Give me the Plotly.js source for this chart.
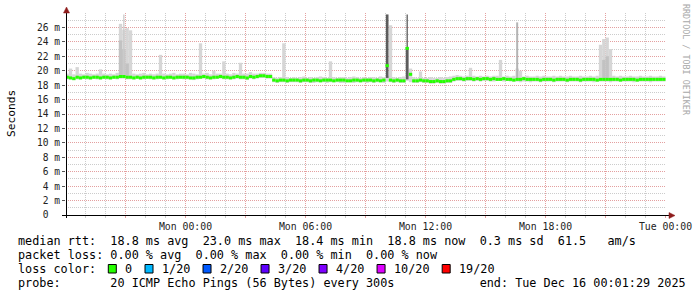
<!DOCTYPE html>
<html><head><meta charset="utf-8">
<script src="https://cdn.plot.ly/plotly-3.0.1.min.js"></script>
<style>html,body{margin:0;padding:0;background:#fff}#chart{width:697px;height:297px}</style>
</head><body><div id="chart"></div>
<script>
// ---------- data (ms), 10-minute steps starting Sun 14 Dec 2025 18:00 ----------
const stepMinutes = 10;
const median = [
19.1,19.0,18.9,19.1,19.0,19.1,19.1,19.0,19.1,19.1,19.0,19.1,
19.1,19.0,19.1,19.1,19.2,19.2,19.1,19.1,19.0,19.1,19.0,19.1,
19.1,19.1,19.0,19.1,19.1,19.0,19.1,19.1,19.0,19.1,19.1,19.1,
19.1,19.0,19.0,19.1,19.1,19.2,19.1,19.0,19.1,19.1,19.2,19.1,
19.1,19.0,19.1,19.2,19.1,19.1,19.0,19.2,19.1,19.2,19.3,19.3,19.2,19.2,
18.7,18.6,18.7,18.7,18.6,18.7,18.7,18.7,18.6,18.7,18.7,18.6,
18.7,18.7,18.6,18.7,18.7,18.7,18.6,18.7,18.7,18.7,18.6,18.6,
18.7,18.7,18.6,18.7,18.7,18.7,18.6,18.7,18.6,18.7,
20.7,
18.7,18.6,18.7,18.6,18.6,
23.1,19.5,
18.6,18.6,18.7,18.6,18.6,18.5,18.5,18.6,18.5,18.5,18.6,18.6,
18.8,18.9,18.9,18.8,18.9,18.9,18.8,18.9,18.8,18.9,18.9,18.8,
18.9,18.8,18.8,18.9,18.8,18.8,18.7,18.8,18.8,18.9,18.8,18.8,
18.8,18.8,18.7,18.8,18.8,18.8,18.7,18.8,18.8,18.8,18.7,18.8,
18.8,18.8,18.7,18.8,18.8,18.8,18.8,18.7,18.8,18.8,18.8,18.8,
18.8,18.8,18.7,18.8,18.8,18.8,18.8,18.7,18.8,18.8,18.8,18.8,
18.8,18.8,18.8,18.8
];
const smokeHi = [
19.6,20.3,19.5,20.5,19.6,19.5,19.7,19.6,19.5,19.6,20.2,19.6,
19.5,19.6,19.5,19.7,26.5,25.7,25.9,25.6,19.6,19.5,19.6,19.7,
19.5,19.6,19.5,19.6,22.2,19.6,19.5,19.6,19.7,19.5,19.6,19.6,
19.5,19.7,19.6,19.5,23.8,19.6,19.7,19.5,20.0,19.6,19.6,21.3,
19.6,19.5,19.7,19.6,21.1,19.6,19.6,19.8,19.6,19.6,19.7,19.7,
19.6,19.6,19.1,19.0,19.1,23.8,19.1,19.0,19.1,19.0,19.1,19.2,
19.0,19.1,19.0,19.1,19.2,19.1,19.0,21.3,19.1,19.0,19.1,19.1,
19.0,19.1,19.2,19.1,19.0,19.1,19.0,19.1,19.1,19.0,19.2,19.1,
19.3,26.3,19.1,19.0,19.1,19.2,23.2,20.3,19.1,19.0,19.9,19.0,
19.0,19.1,19.0,19.0,19.1,19.0,19.1,19.2,19.3,19.4,19.3,19.2,
19.3,20.4,19.3,19.2,19.3,19.2,19.3,19.2,19.3,19.3,21.5,19.2,
19.3,19.2,19.3,20.3,20.0,19.2,19.3,19.2,19.2,19.3,19.2,19.3,
19.2,19.2,19.3,19.2,19.3,19.2,19.2,19.3,19.2,19.2,19.3,19.2,
19.2,19.3,19.2,19.3,23.6,24.4,24.6,23.0,19.3,19.2,19.3,19.2,
19.2,19.3,19.2,19.2,19.3,19.2,19.2,19.3,19.2,19.2,19.3,19.2
];
const smokeLo = [
18.8,18.8,18.7,18.8,18.8,18.9,18.8,18.8,18.9,18.8,18.8,18.9,
18.8,18.8,18.9,18.8,18.9,18.9,18.8,18.8,18.8,18.9,18.8,18.8,
18.9,18.8,18.8,18.8,18.9,18.8,18.8,18.9,18.8,18.8,18.9,18.8,
18.8,18.8,18.7,18.8,18.9,18.9,18.8,18.8,18.8,18.9,18.9,18.8,
18.8,18.8,18.8,18.9,18.8,18.8,18.7,18.9,18.8,18.9,19.0,19.0,
18.9,18.9,18.4,18.3,18.4,18.4,18.3,18.4,18.4,18.4,18.3,18.4,
18.4,18.3,18.3,18.4,18.4,18.4,18.3,18.4,18.4,18.4,18.3,18.3,
18.4,18.4,18.3,18.4,18.4,18.4,18.3,18.4,18.3,18.4,18.4,18.3,
18.5,18.4,18.3,18.4,18.3,18.3,18.6,18.4,18.3,18.3,18.4,18.3,
18.3,18.2,18.2,18.3,18.2,18.2,18.3,18.3,18.5,18.6,18.6,18.5,
18.6,18.6,18.5,18.6,18.5,18.6,18.6,18.5,18.5,18.6,18.6,18.5,
18.6,18.5,18.5,18.5,18.4,18.5,18.5,18.4,18.5,18.5,18.4,18.5,
18.5,18.5,18.4,18.5,18.5,18.5,18.4,18.5,18.5,18.5,18.4,18.5,
18.5,18.5,18.4,18.5,18.5,18.5,18.5,18.4,18.5,18.5,18.5,18.5,
18.5,18.5,18.4,18.5,18.5,18.5,18.5,18.4,18.5,18.5,18.5,18.5
];
// denser smoke (inner percentiles) at a few steps
const midIdx = [16, 17, 18, 161, 162];
const midLo  = [19.3, 19.3, 19.3, 19.0, 19.0];
const midHi  = [24.2, 23.0, 21.0, 21.5, 22.0];
// darkest smoke (most pings high)
const darkIdx = [96, 102];
const darkLo  = [19.0, 18.8];
const darkHi  = [27.8, 23.2];
// single stray pings (thin)
const thinLightIdx = [17];  const thinLightLo = [19.3]; const thinLightHi = [27.8];
const thinMidIdx   = [135]; const thinMidLo   = [19.0]; const thinMidHi   = [26.7];
const thinDarkIdx  = [102]; const thinDarkLo  = [23.0]; const thinDarkHi  = [27.8];

const xTickVals = ['2025-12-14 21:00','2025-12-15 00:00','2025-12-15 03:00','2025-12-15 06:00',
  '2025-12-15 09:00','2025-12-15 12:00','2025-12-15 15:00','2025-12-15 18:00','2025-12-15 21:00','2025-12-16 00:00'];
const xTickText = ['','Mon 00:00','','Mon 06:00','','Mon 12:00','','Mon 18:00','','Tue 00:00'];
const yTickVals = [0,2,4,6,8,10,12,14,16,18,20,22,24,26];
const yTickText = ['0\u00a0\u00a0','2 m','4 m','6 m','8 m','10 m','12 m','14 m','16 m','18 m','20 m','22 m','24 m','26 m'];

const lossLabels = ['0','1/20','2/20','3/20','4/20','10/20','19/20'];
const lossColors = ['#26ff00','#00b8ff','#0059ff','#5e00ff','#7e00ff','#dd00ff','#ff0000'];

const legendLine1 = 'median rtt:  18.8 ms avg  23.0 ms max  18.4 ms min  18.8 ms now  0.3 ms sd  61.5   am/s';
const legendLine2 = 'packet loss: 0.00 % avg  0.00 % max  0.00 % min  0.00 % now';
const legendLine3 = 'loss color:';
const legendLine4 = 'probe:       20 ICMP Echo Pings (56 Bytes) every 300s            end: Tue Dec 16 00:01:29 2025';
const sideText = 'RRDTOOL / TOBI OETIKER';
const yTitle = 'Seconds';

// ---------- build ----------
const T0 = Date.UTC(2025, 11, 14, 18, 0, 0);
const STEP = stepMinutes * 60000;
const tc = i => T0 + i * STEP + STEP / 2;

function bars(idx, lo, hi, color, width) {
  return {type:'bar', x: idx.map(tc), base: lo, y: hi.map((h, k) => h - lo[k]),
    width: width, marker: {color: color, line: {width: 0}}, hoverinfo: 'skip', showlegend: false};
}
const allIdx = median.map((_, i) => i);

// median as separate horizontal step segments (no vertical connectors)
const segX = [], segY = [];
median.forEach((m, i) => { segX.push(T0 + i * STEP, T0 + (i + 1) * STEP, null); segY.push(m, m, null); });

const traces = [
  bars(allIdx, smokeLo, smokeHi, '#d6d6d6', STEP),
  bars(midIdx, midLo, midHi, '#c2c2c2', STEP),
  bars(thinLightIdx, thinLightLo, thinLightHi, '#cccccc', STEP * 0.4),
  bars(thinMidIdx, thinMidLo, thinMidHi, '#b4b4b4', STEP * 0.6),
  bars(darkIdx, darkLo, darkHi, '#5c5c5c', STEP * 0.8),
  bars(thinDarkIdx, thinDarkLo, thinDarkHi, '#4a4a4a', STEP * 0.35),
  {type:'scatter', mode:'lines', x: segX, y: segY, connectgaps:false,
    line:{color:'#26ff00', width:3}, hoverinfo:'skip', showlegend:false}
];

// pixel -> paper helpers (plot area: x 66..666, y 13..215)
const PL = 66, PW = 600, PB = 215, PH = 202;
const xp = px => (px - PL) / PW;
const yp = py => (PB - py) / PH;
const mono = 'DejaVu Sans Mono';
const CW = 11.8 * 0.602;

const shapes = [
  {type:'line', xref:'paper', yref:'paper', x0: xp(62), x1: xp(670), y0: yp(215.5), y1: yp(215.5), line:{color:'#000', width:1}, layer:'above'},
  {type:'line', xref:'paper', yref:'paper', x0: xp(66.5), x1: xp(66.5), y0: yp(218), y1: yp(11), line:{color:'#000', width:1}, layer:'above'},
  {type:'path', xref:'paper', yref:'paper', path: `M ${xp(669)} ${yp(212.5)} L ${xp(675)} ${yp(215.5)} L ${xp(669)} ${yp(218.5)} Z`,
    fillcolor:'#8e1c1c', line:{color:'#8e1c1c', width:0.5}, layer:'above'},
  {type:'path', xref:'paper', yref:'paper', path: `M ${xp(63.5)} ${yp(13)} L ${xp(66.5)} ${yp(7)} L ${xp(69.5)} ${yp(13)} Z`,
    fillcolor:'#8e1c1c', line:{color:'#8e1c1c', width:0.5}, layer:'above'}
];

const nb = s => s.replace(/ /g, '\u00a0');
const ann = (text, px, py, extra) => Object.assign({xref:'paper', yref:'paper', x: xp(px), y: yp(py),
  text: nb(text), showarrow:false, xanchor:'left', yanchor:'middle', font:{family: mono, size: 11.8, color:'#000'}}, extra || {});

const annotations = [
  ann(legendLine1, 16, 241),
  ann(legendLine2, 16, 254.5),
  ann(legendLine3, 16, 268.5),
  ann(legendLine4, 16, 282.5),
  {xref:'paper', yref:'paper', x: xp(11), y: yp(114), text: yTitle, textangle:-90, showarrow:false,
    xanchor:'center', yanchor:'middle', font:{family: mono, size: 11.2, color:'#000'}},
  {xref:'paper', yref:'paper', x: xp(686), y: yp(60), text: nb(sideText), textangle:90, showarrow:false,
    xanchor:'center', yanchor:'middle', font:{family: mono, size: 8.4, color:'#a8a8a8'}}
];

let sx = 108.3;
lossLabels.forEach((lab, k) => {
  shapes.push({type:'rect', xref:'paper', yref:'paper', x0: xp(sx), x1: xp(sx + 8), y0: yp(264.5), y1: yp(273),
    fillcolor: lossColors[k], line:{color:'#000', width:1}});
  annotations.push(ann(lab, sx + 15, 268.5));
  sx += 15 + lab.length * CW + 14.6;
});

const gridDash = '1px,1px';
const layout = {
  width: 697, height: 297,
  margin: {l: PL, r: 697 - PL - PW, t: PB - PH, b: 297 - PB, pad: 0},
  paper_bgcolor:'#ffffff', plot_bgcolor:'#ffffff',
  font: {family: mono, size: 9.8, color:'#222'},
  showlegend: false, hovermode: false, barmode: 'overlay',
  xaxis: {type:'date', range:['2025-12-14 18:01:29','2025-12-16 00:01:29'],
    tickmode:'array', tickvals: xTickVals, ticktext: xTickText,
    showgrid: true, gridcolor:'#e4a0a0', gridwidth:1, griddash: gridDash,
    ticks:'outside', ticklen:2, tickcolor:'#e4a0a0',
    tickfont:{family: mono, size: 9.8, color:'#222'},
    minor: {tickmode:'linear', tick0:'2025-12-15 00:00', dtick: 3600000, showgrid:true,
      gridcolor:'#cccccc', gridwidth:1, griddash: gridDash, ticks:'outside', ticklen:2, tickcolor:'#cccccc'},
    showline:false, zeroline:false, fixedrange:true},
  yaxis: {range:[0, 28.0], tickmode:'array', tickvals: yTickVals, ticktext: yTickText,
    showgrid:true, gridcolor:'#e4a0a0', gridwidth:1, griddash: gridDash,
    ticks:'outside', ticklen:3, tickcolor:'#555',
    tickfont:{family: mono, size: 9.6, color:'#222'},
    minor: {tickmode:'linear', tick0:0, dtick:1, showgrid:true, gridcolor:'#cccccc', gridwidth:1, griddash: gridDash},
    showline:false, zeroline:false, fixedrange:true},
  shapes: shapes,
  annotations: annotations
};
Plotly.newPlot('chart', traces, layout, {staticPlot:true, displayModeBar:false});
</script>
</body></html>
